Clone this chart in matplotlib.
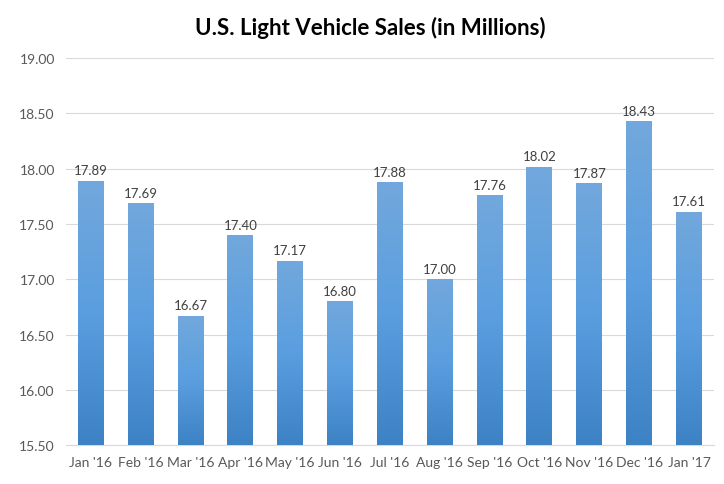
import numpy as np
import matplotlib
matplotlib.use("Agg")
import matplotlib.pyplot as plt
from matplotlib.colors import LinearSegmentedColormap

months = ["Jan '16", "Feb '16", "Mar '16", "Apr '16", "May '16", "Jun '16", "Jul '16",
          "Aug '16", "Sep '16", "Oct '16", "Nov '16", "Dec '16", "Jan '17"]
sales = [17.89, 17.69, 16.67, 17.40, 17.17, 16.80, 17.88, 17.00, 17.76, 18.02, 17.87, 18.43, 17.61]
yticks = [15.5, 16.0, 16.5, 17.0, 17.5, 18.0, 18.5, 19.0]

FONT = "Lato"

fig = plt.figure(figsize=(7.24, 4.85), dpi=100)
ax = fig.add_axes([0.091, 0.080, 0.895, 0.798])

x = np.arange(len(months))
bars = ax.bar(x, sales, width=0.52, color="none", edgecolor="none", zorder=3)

# vertical gradient, lighter at top
cmap = LinearSegmentedColormap.from_list("blu", ["#3D82C4", "#5A9EE0", "#72A8DC"])
grad = np.linspace(0, 1, 256).reshape(-1, 1)
for b in bars:
    x0, w = b.get_x(), b.get_width()
    y1 = b.get_height()
    im = ax.imshow(grad, cmap=cmap, origin="lower", aspect="auto",
                   extent=[x0, x0 + w, 15.5, y1], zorder=3)
    im.set_clip_path(b)
    ax.text(x0 + w / 2, y1 + 0.04, f"{y1:.2f}", ha="center", va="bottom",
            fontsize=9.5, color="#404040", family=FONT)

ax.set_xlim(-0.5, len(months) - 0.5)
ax.set_ylim(15.5, 19.0)
ax.set_yticks(yticks)
ax.set_yticklabels([f"{v:.2f}" for v in yticks])
ax.set_xticks(x)
ax.set_xticklabels(months)
ax.tick_params(length=0, labelsize=10, labelcolor="#595959", pad=8)
for lbl in ax.get_xticklabels() + ax.get_yticklabels():
    lbl.set_family(FONT)
ax.grid(axis="y", color="#D9D9D9", linewidth=0.8, zorder=0)
for s in ["top", "right", "left"]:
    ax.spines[s].set_visible(False)
ax.spines["bottom"].set_color("#D9D9D9")

fig.suptitle("U.S. Light Vehicle Sales (in Millions)", x=0.512, y=0.965, fontsize=16,
             fontweight="bold", family=FONT)

fig.savefig("out.png", dpi=100)
